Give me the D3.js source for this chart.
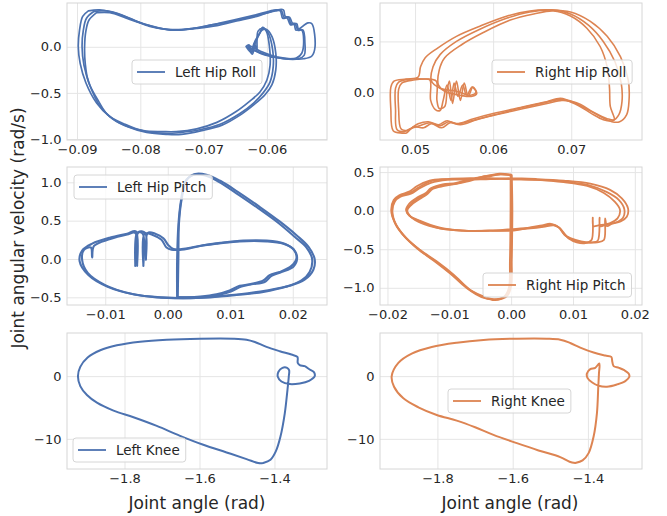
<!DOCTYPE html>
<html><head><meta charset="utf-8">
<script src="https://cdn.jsdelivr.net/npm/d3@7"></script>
<style>
html,body{margin:0;padding:0;background:#fff;}
svg{display:block;font-family:"DejaVu Sans",sans-serif;}
</style></head><body>
<svg id="chart" width="667" height="516"></svg>
<script>
// Phase portraits: joint angle (rad) vs joint angular velocity (rad/s), several gait cycles per joint.

// ---- Left hip roll ----
const lhrCycle1 = [[-0.0882,0.39],[-0.0864,0.40],[-0.0837,0.36],[-0.0811,0.29],[-0.0785,0.22],[-0.0758,0.19],[-0.0732,0.19],[-0.0706,0.21],[-0.0679,0.25],[-0.0653,0.29],[-0.0621,0.34],[-0.0585,0.40],[-0.0577,0.39],[-0.0573,0.32],[-0.0566,0.32],[-0.0562,0.25],[-0.0555,0.24],[-0.0551,0.18],[-0.0545,0.18],[-0.0542,0.08],[-0.0545,-0.07],[-0.0553,-0.12],[-0.0569,-0.13],[-0.0590,-0.11],[-0.0611,-0.07],[-0.0627,-0.01],[-0.0632,0.00],[-0.0625,-0.06],[-0.0620,0.04],[-0.0616,-0.05],[-0.0614,0.17],[-0.0606,0.20],[-0.0598,0.15],[-0.0591,-0.03],[-0.0590,-0.21],[-0.0595,-0.38],[-0.0606,-0.50],[-0.0621,-0.61],[-0.0642,-0.72],[-0.0674,-0.84],[-0.0706,-0.90],[-0.0737,-0.93],[-0.0758,-0.94],[-0.0790,-0.92],[-0.0822,-0.86],[-0.0848,-0.76],[-0.0869,-0.61],[-0.0886,-0.39],[-0.0895,-0.18],[-0.0898,0.00],[-0.0896,0.18],[-0.0891,0.33],[-0.0882,0.39]];
const lhrCycle2 = [[-0.0874,0.38],[-0.0853,0.39],[-0.0827,0.34],[-0.0800,0.26],[-0.0774,0.21],[-0.0748,0.18],[-0.0716,0.20],[-0.0685,0.24],[-0.0653,0.28],[-0.0621,0.33],[-0.0586,0.39],[-0.0579,0.39],[-0.0575,0.31],[-0.0568,0.31],[-0.0563,0.24],[-0.0557,0.24],[-0.0554,0.18],[-0.0535,0.26],[-0.0529,0.25],[-0.0524,0.00],[-0.0529,-0.10],[-0.0542,-0.13],[-0.0563,-0.13],[-0.0585,-0.11],[-0.0606,-0.06],[-0.0624,0.00],[-0.0629,0.01],[-0.0623,-0.08],[-0.0619,0.03],[-0.0616,0.08],[-0.0608,0.18],[-0.0601,0.19],[-0.0592,0.11],[-0.0586,-0.07],[-0.0586,-0.25],[-0.0592,-0.41],[-0.0603,-0.52],[-0.0619,-0.62],[-0.0640,-0.73],[-0.0671,-0.85],[-0.0703,-0.91],[-0.0735,-0.95],[-0.0758,-0.95],[-0.0790,-0.93],[-0.0819,-0.87],[-0.0844,-0.78],[-0.0864,-0.64],[-0.0879,-0.43],[-0.0889,-0.20],[-0.0892,0.00],[-0.0890,0.18],[-0.0885,0.31],[-0.0874,0.38]];
const lhrCycle3 = [[-0.0869,0.37],[-0.0848,0.37],[-0.0822,0.31],[-0.0795,0.25],[-0.0769,0.20],[-0.0743,0.18],[-0.0711,0.20],[-0.0679,0.23],[-0.0648,0.28],[-0.0616,0.33],[-0.0584,0.40],[-0.0574,0.40],[-0.0571,0.33],[-0.0564,0.32],[-0.0560,0.26],[-0.0553,0.25],[-0.0550,0.19],[-0.0543,0.18],[-0.0540,0.04],[-0.0541,-0.09],[-0.0550,-0.13],[-0.0574,-0.13],[-0.0595,-0.10],[-0.0616,-0.05],[-0.0633,0.00],[-0.0628,0.02],[-0.0624,-0.07],[-0.0619,0.06],[-0.0611,0.15],[-0.0607,0.21],[-0.0601,0.17],[-0.0596,0.00],[-0.0595,-0.20],[-0.0600,-0.36],[-0.0611,-0.49],[-0.0627,-0.59],[-0.0648,-0.70],[-0.0679,-0.82],[-0.0711,-0.89],[-0.0743,-0.92],[-0.0764,-0.92],[-0.0795,-0.91],[-0.0824,-0.84],[-0.0851,-0.74],[-0.0866,-0.59],[-0.0882,-0.38],[-0.0887,-0.18],[-0.0888,0.00],[-0.0886,0.17],[-0.0881,0.29],[-0.0869,0.37]];

// ---- Right hip roll ----
const rhrCycle1 = [[0.0481,-0.40],[0.0472,-0.38],[0.0469,-0.17],[0.0469,0.05],[0.0473,0.11],[0.0489,0.13],[0.0504,0.15],[0.0507,0.25],[0.0513,0.34],[0.0528,0.43],[0.0553,0.55],[0.0583,0.65],[0.0618,0.75],[0.0647,0.80],[0.0673,0.81],[0.0699,0.79],[0.0724,0.70],[0.0746,0.55],[0.0763,0.35],[0.0773,0.12],[0.0774,-0.08],[0.0771,-0.22],[0.0762,-0.29],[0.0752,-0.29],[0.0733,-0.22],[0.0716,-0.15],[0.0699,-0.09],[0.0688,-0.08],[0.0669,-0.11],[0.0639,-0.16],[0.0605,-0.22],[0.0579,-0.27],[0.0558,-0.32],[0.0545,-0.30],[0.0534,-0.35],[0.0521,-0.31],[0.0511,-0.35],[0.0498,-0.34],[0.0489,-0.40],[0.0481,-0.40]];
const rhrCycle2 = [[0.0486,-0.39],[0.0477,-0.37],[0.0475,-0.17],[0.0475,0.04],[0.0479,0.10],[0.0494,0.13],[0.0511,0.13],[0.0519,0.12],[0.0520,-0.08],[0.0526,-0.17],[0.0532,-0.18],[0.0536,-0.08],[0.0541,0.07],[0.0546,-0.08],[0.0550,0.09],[0.0555,-0.04],[0.0561,0.07],[0.0566,-0.03],[0.0573,0.05],[0.0578,0.00],[0.0571,-0.03],[0.0553,0.01],[0.0532,0.04],[0.0521,0.11],[0.0523,0.25],[0.0532,0.37],[0.0553,0.50],[0.0583,0.62],[0.0618,0.73],[0.0647,0.79],[0.0675,0.81],[0.0699,0.77],[0.0722,0.66],[0.0741,0.50],[0.0756,0.30],[0.0764,0.09],[0.0765,-0.09],[0.0761,-0.22],[0.0753,-0.28],[0.0741,-0.27],[0.0726,-0.21],[0.0709,-0.13],[0.0694,-0.08],[0.0686,-0.07],[0.0667,-0.10],[0.0637,-0.15],[0.0603,-0.22],[0.0577,-0.27],[0.0556,-0.31],[0.0543,-0.29],[0.0532,-0.33],[0.0519,-0.30],[0.0506,-0.33],[0.0494,-0.36],[0.0486,-0.39]];
const rhrCycle3 = [[0.0490,-0.38],[0.0482,-0.36],[0.0479,-0.17],[0.0479,0.03],[0.0483,0.09],[0.0498,0.12],[0.0515,0.13],[0.0527,0.11],[0.0528,-0.08],[0.0531,-0.16],[0.0538,-0.14],[0.0541,0.02],[0.0544,0.11],[0.0548,-0.11],[0.0553,0.11],[0.0558,-0.08],[0.0563,0.09],[0.0568,-0.04],[0.0574,0.05],[0.0579,-0.01],[0.0573,-0.04],[0.0558,-0.03],[0.0538,0.01],[0.0530,0.07],[0.0531,0.22],[0.0538,0.34],[0.0560,0.47],[0.0588,0.59],[0.0622,0.71],[0.0652,0.77],[0.0677,0.80],[0.0699,0.75],[0.0720,0.63],[0.0737,0.45],[0.0746,0.25],[0.0749,0.04],[0.0750,-0.14],[0.0755,-0.27],[0.0746,-0.26],[0.0729,-0.20],[0.0712,-0.12],[0.0696,-0.08],[0.0686,-0.06],[0.0665,-0.10],[0.0635,-0.15],[0.0600,-0.21],[0.0575,-0.26],[0.0553,-0.31],[0.0541,-0.28],[0.0530,-0.32],[0.0517,-0.29],[0.0504,-0.31],[0.0496,-0.35],[0.0490,-0.38]];

// ---- Left hip pitch ----
const lhpCycle1 = [[0.0016,-0.50],[0.0017,-0.01],[0.0018,0.47],[0.0022,0.77],[0.0030,1.03],[0.0044,1.11],[0.0062,1.10],[0.0084,1.02],[0.0115,0.86],[0.0147,0.68],[0.0179,0.49],[0.0206,0.31],[0.0225,0.16],[0.0235,0.00],[0.0233,-0.14],[0.0219,-0.27],[0.0195,-0.35],[0.0158,-0.41],[0.0115,-0.46],[0.0073,-0.49],[0.0030,-0.51],[-0.0012,-0.50],[-0.0055,-0.46],[-0.0097,-0.36],[-0.0127,-0.21],[-0.0141,-0.03],[-0.0137,0.11],[-0.0121,0.20],[-0.0092,0.28],[-0.0065,0.33],[-0.0051,0.36],[-0.0049,-0.09],[-0.0047,0.35],[-0.0036,0.34],[-0.0035,-0.01],[-0.0032,0.34],[-0.0020,0.33],[-0.0007,0.27],[0.0001,0.18],[0.0009,0.13],[0.0022,0.12],[0.0036,0.14],[0.0052,0.17],[0.0078,0.20],[0.0115,0.23],[0.0158,0.23],[0.0185,0.20],[0.0201,0.13],[0.0206,0.01],[0.0198,-0.09],[0.0179,-0.17],[0.0163,-0.21],[0.0153,-0.28],[0.0131,-0.33],[0.0115,-0.35],[0.0099,-0.41],[0.0078,-0.46],[0.0052,-0.49],[0.0030,-0.50],[0.0016,-0.50]];
const lhpCycle2 = [[0.0015,-0.50],[0.0015,-0.01],[0.0017,0.44],[0.0021,0.75],[0.0028,1.01],[0.0041,1.10],[0.0060,1.09],[0.0081,1.01],[0.0113,0.84],[0.0145,0.66],[0.0177,0.47],[0.0203,0.29],[0.0222,0.15],[0.0231,0.00],[0.0227,-0.17],[0.0214,-0.28],[0.0190,-0.36],[0.0153,-0.43],[0.0110,-0.47],[0.0068,-0.50],[0.0025,-0.51],[-0.0018,-0.50],[-0.0060,-0.45],[-0.0100,-0.34],[-0.0128,-0.18],[-0.0137,-0.01],[-0.0134,0.12],[-0.0123,0.15],[-0.0121,0.02],[-0.0118,0.17],[-0.0092,0.26],[-0.0065,0.32],[-0.0052,0.34],[-0.0052,-0.09],[-0.0049,0.34],[-0.0040,0.33],[-0.0039,-0.09],[-0.0037,0.33],[-0.0023,0.31],[-0.0010,0.25],[-0.0002,0.15],[0.0006,0.12],[0.0022,0.13],[0.0038,0.15],[0.0057,0.18],[0.0084,0.21],[0.0121,0.24],[0.0158,0.24],[0.0187,0.20],[0.0202,0.12],[0.0207,0.01],[0.0201,-0.10],[0.0182,-0.17],[0.0166,-0.22],[0.0155,-0.30],[0.0134,-0.33],[0.0118,-0.36],[0.0102,-0.42],[0.0081,-0.47],[0.0054,-0.50],[0.0030,-0.50],[0.0015,-0.50]];

// ---- Right hip pitch ----
const rhpCycle1 = [[0.0000,0.46],[0.0001,0.01],[0.0000,-0.64],[-0.0002,-0.99],[-0.0010,-1.11],[-0.0026,-1.16],[-0.0045,-1.12],[-0.0066,-1.03],[-0.0093,-0.83],[-0.0120,-0.66],[-0.0147,-0.51],[-0.0172,-0.34],[-0.0188,-0.16],[-0.0193,0.00],[-0.0189,0.13],[-0.0180,0.19],[-0.0164,0.23],[-0.0150,0.30],[-0.0131,0.38],[-0.0104,0.41],[-0.0066,0.41],[-0.0034,0.41],[0.0000,0.42],[0.0042,0.41],[0.0085,0.39],[0.0128,0.35],[0.0160,0.27],[0.0179,0.16],[0.0189,0.03],[0.0187,-0.08],[0.0177,-0.14],[0.0163,-0.17],[0.0155,-0.20],[0.0152,-0.10],[0.0150,-0.38],[0.0139,-0.41],[0.0123,-0.41],[0.0104,-0.38],[0.0090,-0.33],[0.0079,-0.23],[0.0069,-0.19],[0.0052,-0.21],[0.0031,-0.23],[0.0000,-0.25],[-0.0034,-0.26],[-0.0077,-0.26],[-0.0115,-0.23],[-0.0147,-0.14],[-0.0164,-0.07],[-0.0169,0.00],[-0.0164,0.07],[-0.0150,0.16],[-0.0137,0.22],[-0.0128,0.29],[-0.0110,0.33],[-0.0088,0.35],[-0.0066,0.40],[-0.0039,0.45],[-0.0018,0.47],[0.0000,0.46]];
const rhpCycle2 = [[-0.0001,0.47],[-0.0001,0.01],[-0.0002,-0.64],[-0.0004,-1.01],[-0.0012,-1.12],[-0.0028,-1.15],[-0.0048,-1.12],[-0.0071,-1.01],[-0.0098,-0.82],[-0.0125,-0.65],[-0.0152,-0.49],[-0.0174,-0.32],[-0.0189,-0.14],[-0.0194,0.01],[-0.0190,0.14],[-0.0181,0.20],[-0.0164,0.25],[-0.0152,0.32],[-0.0132,0.39],[-0.0104,0.41],[-0.0066,0.42],[-0.0034,0.42],[0.0000,0.41],[0.0042,0.40],[0.0085,0.38],[0.0125,0.33],[0.0155,0.24],[0.0174,0.14],[0.0183,0.02],[0.0181,-0.09],[0.0170,-0.15],[0.0154,-0.18],[0.0144,-0.20],[0.0143,-0.09],[0.0140,-0.39],[0.0131,-0.41],[0.0117,-0.41],[0.0100,-0.38],[0.0087,-0.32],[0.0078,-0.22],[0.0067,-0.18],[0.0052,-0.20],[0.0031,-0.22],[0.0000,-0.24],[-0.0034,-0.26],[-0.0077,-0.26],[-0.0115,-0.22],[-0.0148,-0.13],[-0.0165,-0.06],[-0.0170,0.01],[-0.0165,0.09],[-0.0152,0.17],[-0.0138,0.23],[-0.0130,0.29],[-0.0111,0.34],[-0.0089,0.36],[-0.0067,0.41],[-0.0040,0.45],[-0.0019,0.48],[-0.0001,0.47]];
const rhpCycle3 = [[0.0001,0.46],[0.0002,0.01],[0.0001,-0.64],[0.0000,-0.98],[-0.0007,-1.11],[-0.0023,-1.15],[-0.0042,-1.12],[-0.0064,-1.04],[-0.0091,-0.86],[-0.0118,-0.68],[-0.0145,-0.53],[-0.0170,-0.35],[-0.0186,-0.18],[-0.0192,-0.01],[-0.0188,0.12],[-0.0179,0.18],[-0.0162,0.22],[-0.0148,0.29],[-0.0130,0.36],[-0.0103,0.40],[-0.0066,0.40],[-0.0034,0.41],[0.0000,0.41],[0.0042,0.40],[0.0085,0.37],[0.0123,0.32],[0.0150,0.23],[0.0167,0.12],[0.0176,0.01],[0.0172,-0.10],[0.0160,-0.16],[0.0141,-0.19],[0.0133,-0.20],[0.0132,-0.09],[0.0130,-0.38],[0.0120,-0.42],[0.0106,-0.41],[0.0093,-0.36],[0.0084,-0.29],[0.0076,-0.21],[0.0064,-0.17],[0.0050,-0.19],[0.0030,-0.22],[0.0000,-0.26],[-0.0035,-0.26],[-0.0078,-0.26],[-0.0116,-0.23],[-0.0146,-0.16],[-0.0162,-0.08],[-0.0168,0.00],[-0.0162,0.07],[-0.0148,0.15],[-0.0135,0.22],[-0.0127,0.28],[-0.0108,0.32],[-0.0087,0.35],[-0.0065,0.39],[-0.0038,0.44],[-0.0017,0.47],[0.0001,0.46]];

// ---- Knees ----
const leftKneeCycle = [[-1.430,-13.86],[-1.4106,-13.33],[-1.3965,-12.01],[-1.384,-9.63],[-1.3725,-5.93],[-1.3654,-2.22],[-1.3619,-0.11],[-1.361,0.95],[-1.3663,1.32],[-1.3787,1.32],[-1.3894,0.69],[-1.3911,-0.11],[-1.3814,-0.85],[-1.3592,-1.27],[-1.3326,-1.16],[-1.3078,-0.74],[-1.2927,0.00],[-1.2953,0.69],[-1.3060,1.06],[-1.3193,1.59],[-1.3326,1.75],[-1.3379,2.12],[-1.3388,3.07],[-1.3548,3.44],[-1.3858,3.97],[-1.4213,4.66],[-1.4523,5.45],[-1.4745,5.82],[-1.5100,5.98],[-1.5987,5.98],[-1.6874,5.82],[-1.7583,5.50],[-1.8204,4.92],[-1.8647,4.13],[-1.8984,2.96],[-1.918,1.48],[-1.9242,0.00],[-1.918,-1.59],[-1.9002,-3.02],[-1.8736,-4.23],[-1.8293,-5.50],[-1.7761,-6.56],[-1.7140,-7.94],[-1.6519,-9.52],[-1.5898,-10.95],[-1.5277,-12.17],[-1.4745,-13.23],[-1.4434,-13.86],[-1.430,-13.86]];
const rightKneeCycle = [[-1.4337,-13.86],[-1.4142,-13.44],[-1.3982,-12.28],[-1.3849,-9.63],[-1.3761,-5.93],[-1.3725,-1.69],[-1.3707,0.42],[-1.3698,2.01],[-1.3805,1.32],[-1.3938,1.11],[-1.4027,0.42],[-1.4009,-0.32],[-1.3885,-1.01],[-1.3716,-1.53],[-1.3494,-1.69],[-1.3228,-1.32],[-1.3007,-0.79],[-1.2900,-0.11],[-1.2918,0.42],[-1.3033,0.95],[-1.3175,1.32],[-1.3317,1.59],[-1.3352,2.28],[-1.3379,3.07],[-1.3539,3.28],[-1.3849,3.76],[-1.4204,4.55],[-1.4470,5.29],[-1.4736,5.82],[-1.5091,5.98],[-1.5889,5.98],[-1.6776,5.77],[-1.7486,5.34],[-1.8151,4.66],[-1.8683,3.60],[-1.9038,2.12],[-1.9215,0.00],[-1.9153,-1.69],[-1.8905,-3.54],[-1.8506,-4.97],[-1.8018,-6.19],[-1.7486,-7.09],[-1.6998,-8.15],[-1.6510,-9.37],[-1.5889,-10.69],[-1.5313,-11.85],[-1.4736,-12.91],[-1.4488,-13.65],[-1.4337,-13.86]];

// ---- Tick values ----
const lhrXTicks = [-0.09, -0.08, -0.07, -0.06];
const lhrYTicks = [-1.0, -0.5, 0.0];
const rhrXTicks = [0.05, 0.06, 0.07];
const rhrYTicks = [0.0, 0.5];
const lhpXTicks = [-0.01, 0.00, 0.01, 0.02];
const lhpYTicks = [-0.5, 0.0, 0.5, 1.0];
const rhpXTicks = [-0.02, -0.01, 0.00, 0.01, 0.02];
const rhpYTicks = [-1.0, -0.5, 0.0, 0.5];
const kneeXTicks = [-1.8, -1.6, -1.4];
const kneeYTicks = [-10, 0];

const labels = ["Left Hip Roll", "Right Hip Roll", "Left Hip Pitch", "Right Hip Pitch", "Left Knee", "Right Knee"];
const leftColor = "#4c72b0", rightColor = "#dd8452";

const panels = [
  {label: labels[0], color: leftColor, cycles: [lhrCycle1, lhrCycle2, lhrCycle3], xd: [-0.09158, -0.05051], yd: [-1.011, 0.475], xt: lhrXTicks, yt: lhrYTicks, xf: ".2f", yf: ".1f", frame: [67, 3, 260, 137], legend: [132, 60], lw: 1.7},
  {label: labels[1], color: rightColor, cycles: [rhrCycle1, rhrCycle2, rhrCycle3], xd: [0.04551, 0.07906], yd: [-0.470, 0.878], xt: rhrXTicks, yt: rhrYTicks, xf: ".2f", yf: ".1f", frame: [380, 3, 262, 137], legend: [492, 60], lw: 1.6},
  {label: labels[2], color: leftColor, cycles: [lhpCycle1, lhpCycle2], xd: [-0.01612, 0.02548], yd: [-0.600, 1.200], xt: lhpXTicks, yt: lhpYTicks, xf: ".2f", yf: ".1f", frame: [67, 167, 260, 138], legend: [74, 175], lw: 2.1},
  {label: labels[3], color: rightColor, cycles: [rhpCycle1, rhpCycle2, rhpCycle3], xd: [-0.02121, 0.02116], yd: [-1.223, 0.566], xt: rhpXTicks, yt: rhpYTicks, xf: ".2f", yf: ".1f", frame: [380, 167, 262, 138], legend: [483, 273], lw: 1.8},
  {label: labels[4], color: leftColor, cycles: [leftKneeCycle], xd: [-1.9534, -1.2599], yd: [-14.81, 6.88], xt: kneeXTicks, yt: kneeYTicks, xf: ".1f", yf: "d", frame: [67, 333, 260, 136], legend: [73, 438], lw: 2},
  {label: labels[5], color: rightColor, cycles: [rightKneeCycle], xd: [-1.9526, -1.2563], yd: [-14.81, 6.88], xt: kneeXTicks, yt: kneeYTicks, xf: ".1f", yf: "d", frame: [380, 333, 262, 136], legend: [448, 389], lw: 2}
];

const svg = d3.select("#chart");
const textColor = "#262626", gridColor = "#e5e5e5", spineColor = "#d6d6d6";

panels.forEach(p => {
  const [fx, fy, fw, fh] = p.frame;
  const x = d3.scaleLinear().domain(p.xd).range([0, fw]);
  const y = d3.scaleLinear().domain(p.yd).range([fh, 0]);
  const g = svg.append("g").attr("transform", `translate(${fx},${fy})`);

  // grid
  g.append("g").attr("transform", `translate(0,${fh})`)
    .call(d3.axisBottom(x).tickValues(p.xt).tickSize(-fh).tickFormat(""))
    .call(a => { a.select(".domain").remove(); a.selectAll("line").attr("stroke", gridColor).attr("stroke-width", 1); });
  g.append("g")
    .call(d3.axisLeft(y).tickValues(p.yt).tickSize(-fw).tickFormat(""))
    .call(a => { a.select(".domain").remove(); a.selectAll("line").attr("stroke", gridColor).attr("stroke-width", 1); });

  // frame
  g.append("rect").attr("x", 0).attr("y", 0).attr("width", fw).attr("height", fh)
    .attr("fill", "none").attr("stroke", spineColor).attr("stroke-width", 1);

  // tick labels
  g.append("g").attr("transform", `translate(0,${fh})`)
    .call(d3.axisBottom(x).tickValues(p.xt).tickSize(0).tickPadding(5).tickFormat(d3.format(p.xf)))
    .call(a => { a.select(".domain").remove(); a.selectAll("text").attr("fill", textColor).attr("font-size", 13).attr("font-family", "DejaVu Sans"); });
  g.append("g")
    .call(d3.axisLeft(y).tickValues(p.yt).tickSize(0).tickPadding(5.5).tickFormat(d3.format(p.yf)))
    .call(a => { a.select(".domain").remove(); a.selectAll("text").attr("fill", textColor).attr("font-size", 13).attr("font-family", "DejaVu Sans"); });

  // trajectories
  const clipId = "clip" + fx + "_" + fy;
  g.append("clipPath").attr("id", clipId).append("rect").attr("width", fw).attr("height", fh);
  const line = d3.line().x(d => x(d[0])).y(d => y(d[1])).curve(d3.curveCatmullRom.alpha(0.5));
  g.append("g").attr("clip-path", `url(#${clipId})`)
    .selectAll("path").data(p.cycles).join("path")
    .attr("d", line).attr("fill", "none").attr("stroke", p.color)
    .attr("stroke-width", p.lw).attr("stroke-linejoin", "round").attr("stroke-linecap", "round");

  // legend
  const [lx, ly] = p.legend;
  const lg = svg.append("g").attr("transform", `translate(${lx},${ly})`);
  const box = lg.append("rect").attr("y", 0).attr("height", 24).attr("rx", 3)
    .attr("fill", "#fff").attr("fill-opacity", 0.8).attr("stroke", "#d6d6d6").attr("stroke-width", 1);
  lg.append("line").attr("x1", 5).attr("x2", 33).attr("y1", 12).attr("y2", 12)
    .attr("stroke", p.color).attr("stroke-width", 1.8);
  const t = lg.append("text").attr("x", 43).attr("y", 16.5).text(p.label)
    .attr("fill", textColor).attr("font-size", 13.5);
  box.attr("width", t.node().getComputedTextLength() + 49);
});

// shared axis titles
svg.append("text").attr("x", 197).attr("y", 509).attr("text-anchor", "middle")
  .attr("font-size", 17).attr("fill", textColor).text("Joint angle (rad)");
svg.append("text").attr("x", 510).attr("y", 509).attr("text-anchor", "middle")
  .attr("font-size", 17).attr("fill", textColor).text("Joint angle (rad)");
svg.append("text").attr("transform", "translate(24,228) rotate(-90)").attr("text-anchor", "middle")
  .attr("font-size", 17).attr("fill", textColor).text("Joint angular velocity (rad/s)");
</script>
</body></html>
